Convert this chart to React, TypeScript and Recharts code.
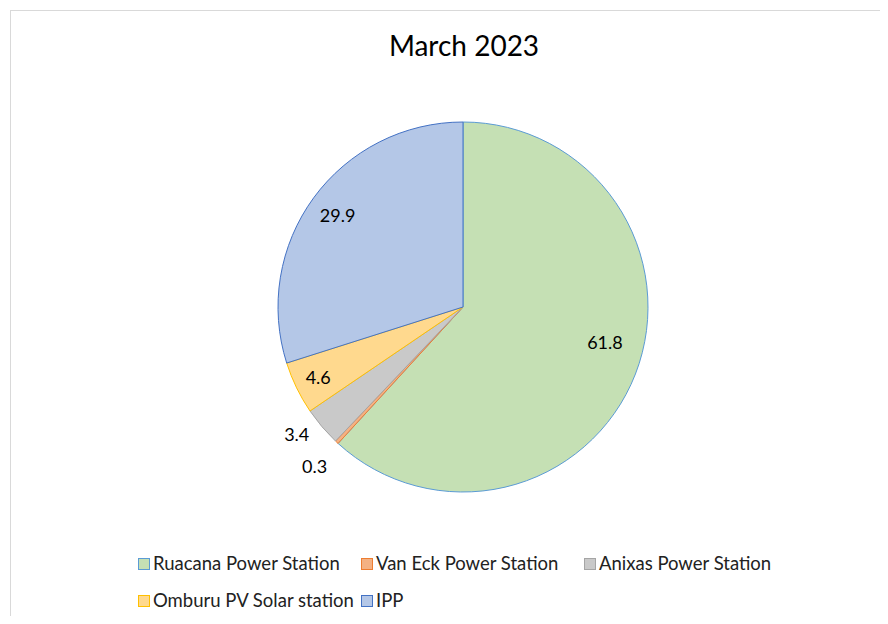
import { PieChart, Pie, Cell, Legend } from "recharts";

const STATIONS = [
  "Ruacana Power Station",
  "Van Eck Power Station",
  "Anixas Power Station",
  "Omburu PV Solar station",
  "IPP",
];
const SHARES = [61.8, 0.3, 3.4, 4.6, 29.9];

const FILLS = ["#C5E0B4", "#F4B183", "#C9C9C9", "#FFD98E", "#B4C7E7"];
const STROKES = ["#5B9BD5", "#ED7D31", "#A5A5A5", "#FFC000", "#4472C4"];

// label placement (fraction of radius, angle nudge in degrees)
const LABEL_R = [0.79, 1.175, 1.13, 0.87, 0.84];
const LABEL_SHIFT = [7.5, 0, -3, 0, 0];

const data = STATIONS.map((name, i) => ({ name, value: SHARES[i] }));

const FONT = "Lato, 'Open Sans', sans-serif";
const RADIAN = Math.PI / 180;

function renderLabel(props: any) {
  const { cx, cy, midAngle, outerRadius, index, value } = props;
  const a = (midAngle + LABEL_SHIFT[index]) * RADIAN;
  const r = outerRadius * LABEL_R[index];
  const x = cx + r * Math.cos(-a);
  const y = cy + r * Math.sin(-a);
  return (
    <text
      x={x}
      y={y}
      textAnchor="middle"
      dominantBaseline="central"
      fill="#000"
      fontSize={18}
      fontFamily={FONT}
    >
      {value.toFixed(1)}
    </text>
  );
}

function LegendBox() {
  return (
    <div
      style={{
        display: "flex",
        flexWrap: "wrap",
        width: 690,
        fontFamily: FONT,
        fontSize: 18.5,
        lineHeight: "23px",
        color: "#222",
        rowGap: 14,
      }}
    >
      {STATIONS.map((name, i) => (
        <div
          key={name}
          style={{ width: 223, display: "flex", alignItems: "center" }}
        >
          <span
            style={{
              display: "inline-block",
              width: 10,
              height: 10,
              background: FILLS[i],
              border: `1px solid ${STROKES[i]}`,
              marginRight: 3,
            }}
          />
          <span style={{ whiteSpace: "nowrap" }}>{name}</span>
        </div>
      ))}
    </div>
  );
}

export default function App() {
  return (
    <div
      style={{
        position: "relative",
        marginLeft: 2,
        marginTop: 2,
        width: 877,
        height: 605,
        borderTop: "1px solid #D9D9D9",
        borderLeft: "1px solid #D9D9D9",
        background: "#fff",
      }}
    >
      <div
        style={{
          position: "absolute",
          left: 0,
          width: 906,
          top: 17,
          textAlign: "center",
          fontFamily: FONT,
          fontSize: 28,
          lineHeight: "34px",
          color: "#000",
        }}
      >
        March 2023
      </div>
      <PieChart width={877} height={605}>
        <Pie
          data={data}
          dataKey="value"
          nameKey="name"
          cx={447}
          cy={291}
          outerRadius={185}
          startAngle={90}
          endAngle={-270}
          label={renderLabel}
          labelLine={false}
          isAnimationActive={false}
        >
          {data.map((d, i) => (
            <Cell
              key={d.name}
              fill={FILLS[i]}
              stroke={STROKES[i]}
              strokeWidth={1}
            />
          ))}
        </Pie>
        <Legend
          content={() => <LegendBox />}
          wrapperStyle={{ left: 127, top: 541, width: 690 }}
        />
      </PieChart>
    </div>
  );
}
